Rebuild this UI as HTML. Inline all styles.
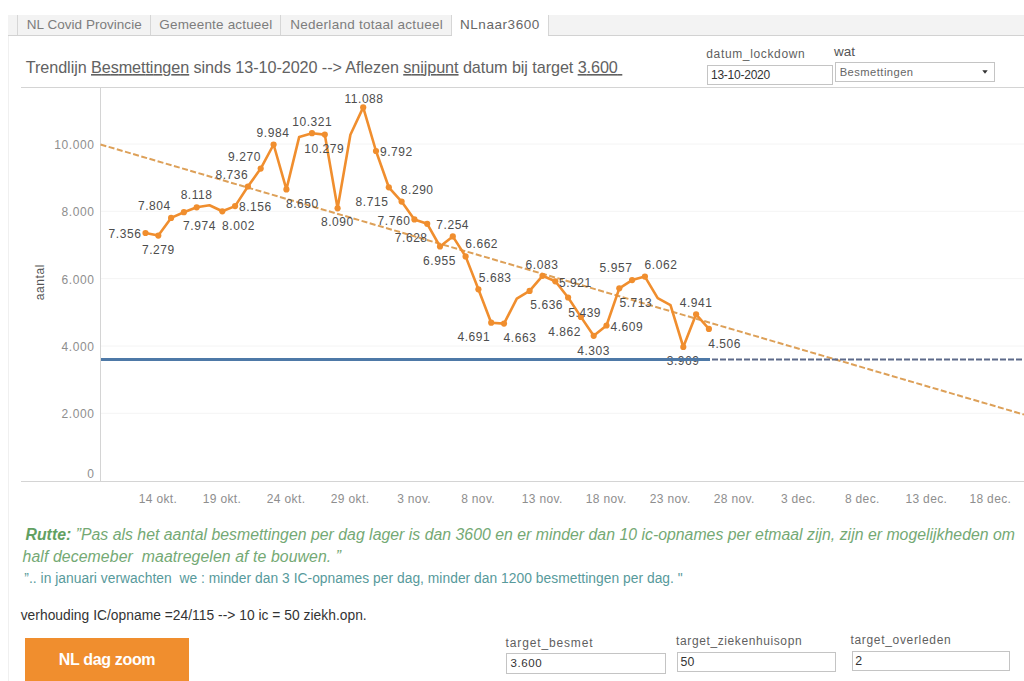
<!DOCTYPE html>
<html><head><meta charset="utf-8">
<style>
html,body{margin:0;padding:0;width:1024px;height:681px;overflow:hidden;background:#fff;}
svg{position:absolute;left:0;top:0;}
svg text{font-family:"Liberation Sans",sans-serif;white-space:pre;}
.ax{font-size:12px;fill:#8e8e8e;letter-spacing:0.6px;}
.at{font-size:12px;fill:#555;}
.dl{font-size:12px;fill:#4d4d4d;letter-spacing:0.55px;}
</style></head><body>
<svg width="1024" height="681" viewBox="0 0 1024 681">
<rect x="8" y="15" width="1016" height="20" fill="#f3f3f3"/>
<line x1="8" y1="35.5" x2="1024" y2="35.5" stroke="#d2d2d2"/>
<rect x="452" y="15" width="96" height="21" fill="#fff"/>
<line x1="17.5" y1="15" x2="17.5" y2="35" stroke="#d6d6d6"/>
<line x1="150.5" y1="15" x2="150.5" y2="35" stroke="#d6d6d6"/>
<line x1="280.5" y1="15" x2="280.5" y2="35" stroke="#d6d6d6"/>
<line x1="451.5" y1="15" x2="451.5" y2="35" stroke="#d6d6d6"/>
<line x1="548.5" y1="15" x2="548.5" y2="35" stroke="#d6d6d6"/>
<line x1="8.5" y1="36" x2="8.5" y2="681" stroke="#f0f0f0"/>
<text x="26.8" y="29.1" font-size="13.5" fill="#7d7d7d" textLength="114.9" lengthAdjust="spacing" >NL Covid Provincie</text>
<text x="159.3" y="29.1" font-size="13.5" fill="#7d7d7d" textLength="112.9" lengthAdjust="spacing" >Gemeente actueel</text>
<text x="290.3" y="29.1" font-size="13.5" fill="#7d7d7d" textLength="152.4" lengthAdjust="spacing" >Nederland totaal actueel</text>
<text x="460.0" y="29.1" font-size="13.5" fill="#666" textLength="79.3" lengthAdjust="spacing" >NLnaar3600</text>
<text x="25.8" y="73" font-size="16.2" fill="#626262" textLength="596.5" lengthAdjust="spacing">Trendlijn <tspan text-decoration="underline">Besmettingen</tspan> sinds 13-10-2020 --&gt; Aflezen <tspan text-decoration="underline">snijpunt</tspan> datum bij target <tspan text-decoration="underline">3.600 </tspan></text>
<text x="706.3" y="58.4" font-size="12" fill="#5f5f5f" textLength="98.4" lengthAdjust="spacing" >datum_lockdown</text>
<rect x="707.5" y="65.5" width="125" height="19" fill="#fff" stroke="#c4c4c4"/>
<text x="711.0" y="78.8" font-size="12" fill="#333" textLength="59.2" lengthAdjust="spacing" >13-10-2020</text>
<text x="834" y="55.5" font-size="13.5" fill="#555">wat</text>
<rect x="835.5" y="62.5" width="159" height="19" fill="#fff" stroke="#c4c4c4"/>
<text x="839.7" y="76.0" font-size="11.2" fill="#666" textLength="73.4" lengthAdjust="spacing" >Besmettingen</text>
<path d="M982.3 70.2 L987.7 70.2 L985 73.8 Z" fill="#333"/>
<line x1="101" y1="413.3" x2="1024" y2="413.3" stroke="#f4f4f4" stroke-width="1"/>
<line x1="101" y1="346.0" x2="1024" y2="346.0" stroke="#f4f4f4" stroke-width="1"/>
<line x1="101" y1="278.6" x2="1024" y2="278.6" stroke="#f4f4f4" stroke-width="1"/>
<line x1="101" y1="211.3" x2="1024" y2="211.3" stroke="#f4f4f4" stroke-width="1"/>
<line x1="101" y1="144.0" x2="1024" y2="144.0" stroke="#f4f4f4" stroke-width="1"/>
<line x1="21" y1="87.5" x2="1024" y2="87.5" stroke="#d4d4d4" stroke-width="1"/>
<line x1="21" y1="481.5" x2="1024" y2="481.5" stroke="#d4d4d4" stroke-width="1"/>
<line x1="100.5" y1="87" x2="100.5" y2="481" stroke="#d4d4d4" stroke-width="1"/>
<text x="94.5" y="149.0" text-anchor="end" class="ax">10.000</text>
<text x="94.5" y="216.3" text-anchor="end" class="ax">8.000</text>
<text x="94.5" y="283.6" text-anchor="end" class="ax">6.000</text>
<text x="94.5" y="351.0" text-anchor="end" class="ax">4.000</text>
<text x="94.5" y="418.3" text-anchor="end" class="ax">2.000</text>
<text x="94.5" y="477.8" text-anchor="end" class="ax">0</text>
<text transform="translate(43.8,300.3) rotate(-90)" class="at" textLength="35.8" lengthAdjust="spacing">aantal</text>
<text x="158.0" y="503" text-anchor="middle" class="ax" style="letter-spacing:0.35px">14 okt.</text>
<text x="222.0" y="503" text-anchor="middle" class="ax" style="letter-spacing:0.35px">19 okt.</text>
<text x="286.1" y="503" text-anchor="middle" class="ax" style="letter-spacing:0.35px">24 okt.</text>
<text x="350.1" y="503" text-anchor="middle" class="ax" style="letter-spacing:0.35px">29 okt.</text>
<text x="414.1" y="503" text-anchor="middle" class="ax" style="letter-spacing:0.35px">3 nov.</text>
<text x="478.1" y="503" text-anchor="middle" class="ax" style="letter-spacing:0.35px">8 nov.</text>
<text x="542.2" y="503" text-anchor="middle" class="ax" style="letter-spacing:0.35px">13 nov.</text>
<text x="606.2" y="503" text-anchor="middle" class="ax" style="letter-spacing:0.35px">18 nov.</text>
<text x="670.2" y="503" text-anchor="middle" class="ax" style="letter-spacing:0.35px">23 nov.</text>
<text x="734.2" y="503" text-anchor="middle" class="ax" style="letter-spacing:0.35px">28 nov.</text>
<text x="798.3" y="503" text-anchor="middle" class="ax" style="letter-spacing:0.35px">3 dec.</text>
<text x="862.3" y="503" text-anchor="middle" class="ax" style="letter-spacing:0.35px">8 dec.</text>
<text x="926.3" y="503" text-anchor="middle" class="ax" style="letter-spacing:0.35px">13 dec.</text>
<text x="990.3" y="503" text-anchor="middle" class="ax" style="letter-spacing:0.35px">18 dec.</text>
<line x1="100.5" y1="144.5" x2="1024" y2="414.6" stroke="#dda058" stroke-width="2" stroke-dasharray="6 2.5"/>
<polyline points="145.5,233.0 158.3,235.6 171.1,217.9 183.9,212.2 196.7,207.3 209.5,205.3 222.3,211.3 235.1,206.1 247.9,186.5 260.7,168.6 273.6,144.5 286.4,189.4 299.2,136.9 312.0,133.2 324.8,134.6 337.6,208.3 350.4,134.7 363.2,107.4 376.0,151.0 388.8,187.3 401.6,201.6 414.4,219.4 427.2,223.8 440.0,246.5 452.8,236.4 465.6,256.4 478.4,289.3 491.2,322.7 504.0,323.6 516.8,298.6 529.6,290.9 542.5,275.8 555.3,281.3 568.1,297.5 580.9,316.9 593.7,335.8 606.5,325.5 619.3,288.3 632.1,280.1 644.9,276.6 657.7,298.2 670.5,305.1 683.3,347.0 696.1,314.3 708.9,328.9" fill="none" stroke="#f08e2e" stroke-width="2.6" stroke-linejoin="round"/>
<circle cx="145.5" cy="233.0" r="3.1" fill="#f08e2e"/>
<circle cx="158.3" cy="235.6" r="3.1" fill="#f08e2e"/>
<circle cx="171.1" cy="217.9" r="3.1" fill="#f08e2e"/>
<circle cx="183.9" cy="212.2" r="3.1" fill="#f08e2e"/>
<circle cx="196.7" cy="207.3" r="3.1" fill="#f08e2e"/>
<circle cx="222.3" cy="211.3" r="3.1" fill="#f08e2e"/>
<circle cx="235.1" cy="206.1" r="3.1" fill="#f08e2e"/>
<circle cx="247.9" cy="186.5" r="3.1" fill="#f08e2e"/>
<circle cx="260.7" cy="168.6" r="3.1" fill="#f08e2e"/>
<circle cx="273.6" cy="144.5" r="3.1" fill="#f08e2e"/>
<circle cx="286.4" cy="189.4" r="3.1" fill="#f08e2e"/>
<circle cx="312.0" cy="133.2" r="3.1" fill="#f08e2e"/>
<circle cx="324.8" cy="134.6" r="3.1" fill="#f08e2e"/>
<circle cx="337.6" cy="208.3" r="3.1" fill="#f08e2e"/>
<circle cx="363.2" cy="107.4" r="3.1" fill="#f08e2e"/>
<circle cx="376.0" cy="151.0" r="3.1" fill="#f08e2e"/>
<circle cx="388.8" cy="187.3" r="3.1" fill="#f08e2e"/>
<circle cx="401.6" cy="201.6" r="3.1" fill="#f08e2e"/>
<circle cx="414.4" cy="219.4" r="3.1" fill="#f08e2e"/>
<circle cx="427.2" cy="223.8" r="3.1" fill="#f08e2e"/>
<circle cx="440.0" cy="246.5" r="3.1" fill="#f08e2e"/>
<circle cx="452.8" cy="236.4" r="3.1" fill="#f08e2e"/>
<circle cx="465.6" cy="256.4" r="3.1" fill="#f08e2e"/>
<circle cx="478.4" cy="289.3" r="3.1" fill="#f08e2e"/>
<circle cx="491.2" cy="322.7" r="3.1" fill="#f08e2e"/>
<circle cx="504.0" cy="323.6" r="3.1" fill="#f08e2e"/>
<circle cx="529.6" cy="290.9" r="3.1" fill="#f08e2e"/>
<circle cx="542.5" cy="275.8" r="3.1" fill="#f08e2e"/>
<circle cx="555.3" cy="281.3" r="3.1" fill="#f08e2e"/>
<circle cx="568.1" cy="297.5" r="3.1" fill="#f08e2e"/>
<circle cx="580.9" cy="316.9" r="3.1" fill="#f08e2e"/>
<circle cx="593.7" cy="335.8" r="3.1" fill="#f08e2e"/>
<circle cx="606.5" cy="325.5" r="3.1" fill="#f08e2e"/>
<circle cx="619.3" cy="288.3" r="3.1" fill="#f08e2e"/>
<circle cx="632.1" cy="280.1" r="3.1" fill="#f08e2e"/>
<circle cx="644.9" cy="276.6" r="3.1" fill="#f08e2e"/>
<circle cx="683.3" cy="347.0" r="3.1" fill="#f08e2e"/>
<circle cx="696.1" cy="314.3" r="3.1" fill="#f08e2e"/>
<circle cx="708.9" cy="328.9" r="3.1" fill="#f08e2e"/>
<text x="125" y="238.3" text-anchor="middle" class="dl">7.356</text>
<text x="158.4" y="254.3" text-anchor="middle" class="dl">7.279</text>
<text x="154.3" y="210.3" text-anchor="middle" class="dl">7.804</text>
<text x="196.6" y="199.3" text-anchor="middle" class="dl">8.118</text>
<text x="199.5" y="230.3" text-anchor="middle" class="dl">7.974</text>
<text x="238.5" y="229.8" text-anchor="middle" class="dl">8.002</text>
<text x="255.3" y="210.6" text-anchor="middle" class="dl">8.156</text>
<text x="231.8" y="179.0" text-anchor="middle" class="dl">8.736</text>
<text x="244.5" y="160.7" text-anchor="middle" class="dl">9.270</text>
<text x="273" y="136.8" text-anchor="middle" class="dl">9.984</text>
<text x="302.4" y="207.7" text-anchor="middle" class="dl">8.650</text>
<text x="312.3" y="126.3" text-anchor="middle" class="dl">10.321</text>
<text x="324.2" y="153.3" text-anchor="middle" class="dl">10.279</text>
<text x="337.4" y="226.3" text-anchor="middle" class="dl">8.090</text>
<text x="364" y="103.3" text-anchor="middle" class="dl">11.088</text>
<text x="396.4" y="155.9" text-anchor="middle" class="dl">9.792</text>
<text x="372" y="205.6" text-anchor="middle" class="dl">8.715</text>
<text x="417.2" y="194.3" text-anchor="middle" class="dl">8.290</text>
<text x="394" y="224.6" text-anchor="middle" class="dl">7.760</text>
<text x="411.2" y="242.3" text-anchor="middle" class="dl">7.628</text>
<text x="452.7" y="228.6" text-anchor="middle" class="dl">7.254</text>
<text x="481.7" y="248.3" text-anchor="middle" class="dl">6.662</text>
<text x="439.5" y="265.3" text-anchor="middle" class="dl">6.955</text>
<text x="495.2" y="281.8" text-anchor="middle" class="dl">5.683</text>
<text x="473.9" y="341.3" text-anchor="middle" class="dl">4.691</text>
<text x="520" y="342.0" text-anchor="middle" class="dl">4.663</text>
<text x="542" y="269.3" text-anchor="middle" class="dl">6.083</text>
<text x="546.7" y="308.9" text-anchor="middle" class="dl">5.636</text>
<text x="575.3" y="287.3" text-anchor="middle" class="dl">5.921</text>
<text x="584.7" y="316.6" text-anchor="middle" class="dl">5.439</text>
<text x="564.6" y="335.8" text-anchor="middle" class="dl">4.862</text>
<text x="593.6" y="354.5" text-anchor="middle" class="dl">4.303</text>
<text x="626.8" y="331.0" text-anchor="middle" class="dl">4.609</text>
<text x="635.9" y="307.2" text-anchor="middle" class="dl">5.713</text>
<text x="616" y="272.3" text-anchor="middle" class="dl">5.957</text>
<text x="661" y="269.3" text-anchor="middle" class="dl">6.062</text>
<text x="683.1" y="365.3" text-anchor="middle" class="dl">3.969</text>
<text x="696.1" y="307.4" text-anchor="middle" class="dl">4.941</text>
<text x="724.6" y="347.8" text-anchor="middle" class="dl">4.506</text>
<line x1="101" y1="359.4" x2="710" y2="359.4" stroke="#4e79a7" stroke-width="3"/>
<line x1="712" y1="359.4" x2="1024" y2="359.4" stroke="#5d6a8a" stroke-width="2" stroke-dasharray="6 2"/>
<text x="25.5" y="539.7" font-size="15.8" fill="#74a974" font-style="italic" textLength="989.5" lengthAdjust="spacing"><tspan font-weight="bold" fill="#62a062">Rutte:</tspan> ”Pas als het aantal besmettingen per dag lager is dan 3600 en er minder dan 10 ic-opnames per etmaal zijn, zijn er mogelijkheden om</text>
<text x="22.6" y="561.6" font-size="15.8" fill="#74a974" font-style="italic" textLength="318.5" lengthAdjust="spacing">half decemeber  maatregelen af te bouwen. ”</text>
<text x="24.3" y="582.9" font-size="13.8" fill="#579a9b" textLength="658.4" lengthAdjust="spacing" >”.. in januari verwachten  we : minder dan 3 IC-opnames per dag, minder dan 1200 besmettingen per dag. "</text>
<text x="20.7" y="619.6" font-size="13.8" fill="#333" textLength="346.0" lengthAdjust="spacing" >verhouding IC/opname =24/115 --&gt; 10 ic = 50 ziekh.opn.</text>
<rect x="25" y="638" width="164" height="43" fill="#f08e2e"/>
<text x="58.7" y="665.2" font-size="16" fill="#fff" textLength="96.9" lengthAdjust="spacing" font-weight="bold">NL dag zoom</text>
<text x="505.6" y="647.2" font-size="12" fill="#5f5f5f" textLength="86.9" lengthAdjust="spacing" >target_besmet</text>
<rect x="506.5" y="653.5" width="159" height="20" fill="#fff" stroke="#c4c4c4"/>
<text x="510.6" y="667.1" font-size="11.5" fill="#333" textLength="31.1" lengthAdjust="spacing" >3.600</text>
<text x="676.1" y="645.2" font-size="12" fill="#5f5f5f" textLength="125.5" lengthAdjust="spacing" >target_ziekenhuisopn</text>
<rect x="677.5" y="652.5" width="158" height="19" fill="#fff" stroke="#c4c4c4"/>
<text x="680.6" y="665.5" font-size="12.3" fill="#333">50</text>
<text x="850.4" y="644.4" font-size="12" fill="#5f5f5f" textLength="100.3" lengthAdjust="spacing" >target_overleden</text>
<rect x="852.5" y="651.5" width="157" height="19" fill="#fff" stroke="#c4c4c4"/>
<text x="855.2" y="664.9" font-size="12.3" fill="#333">2</text>
</svg>
</body></html>
